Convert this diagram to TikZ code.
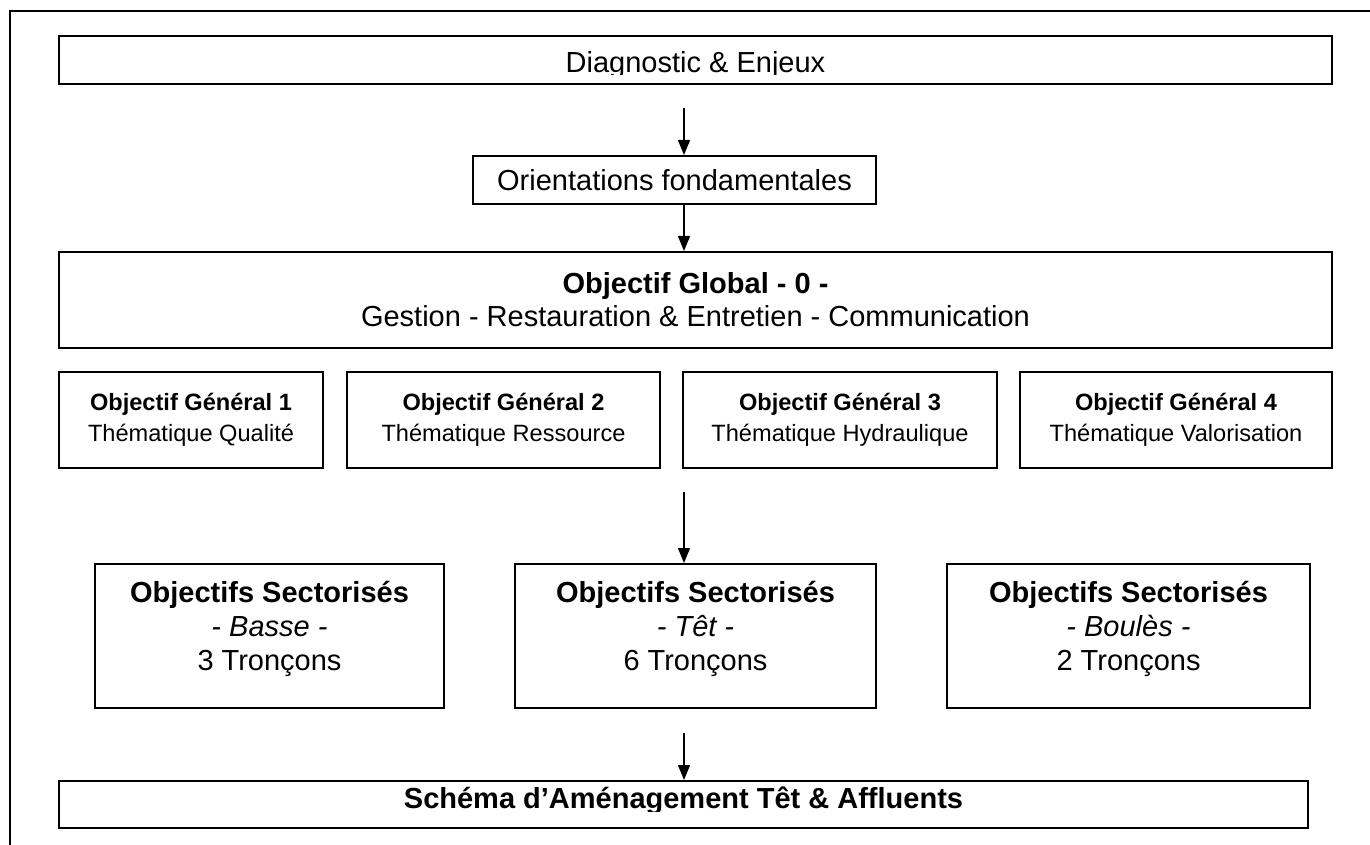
\documentclass[tikz,border=0pt]{standalone}
\usepackage{fontspec}
\setmainfont{Liberation Sans}
\usetikzlibrary{arrows.meta}

\begin{document}
\begin{tikzpicture}[x=0.5pt, y=-0.5pt,
      cadre/.style={draw, line width=1pt, inner sep=0pt, align=center,
                    font=\fontsize{14.5}{16.5}\selectfont},
      cadreg/.style={cadre, minimum height=48pt, font=\fontsize{11.8}{15.5}\selectfont},
      cadres/.style={cadre, minimum height=72pt},
      textes/.style={align=center, inner sep=0pt, font=\fontsize{14.5}{17}\selectfont},
      texte/.style={anchor=base, font=\fontsize{14.5}{16.5}\selectfont},
      fleche/.style={-{Triangle[length=7.5pt,width=6pt]}, line width=0.7pt}]

    \useasboundingbox (0,0) rectangle (1370,845);
    % cadre de la page
    \draw[line width=1pt] (10,900) -- (10,11) -- (1400,11);

    \node[cadre, minimum width=636.5pt, minimum height=24pt] (diag) at (695.5,60) {};
    \begin{scope}
      \clip (59,36) rectangle (1332,75);
      \node[texte] (diagtxt) at (695.5,73) {Diagnostic \& Enjeux};
    \end{scope}
    \node[cadre, minimum width=201.5pt, minimum height=24pt] (orient) at (674.5,180) {Orientations fondamentales};
    \node[cadre, minimum width=636.5pt, minimum height=48pt] (global) at (695.5,300)
      {\textbf{Objectif Global - 0 -}\\Gestion - Restauration \& Entretien - Communication};

    \node[cadreg, minimum width=132pt] (og1) at (191,420) {\textbf{Objectif Général 1}\\Thématique Qualité};
    \node[cadreg, minimum width=156.5pt] (og2) at (503.5,420) {\textbf{Objectif Général 2}\\Thématique Ressource};
    \node[cadreg, minimum width=157pt] (og3) at (840,420) {\textbf{Objectif Général 3}\\Thématique Hydraulique};
    \node[cadreg, minimum width=156pt] (og4) at (1176,420) {\textbf{Objectif Général 4}\\Thématique Valorisation};

    \node[cadres, minimum width=174.5pt] (os1) at (269.5,636) {};
    \node[cadres, minimum width=180.5pt] (os2) at (695.5,636) {};
    \node[cadres, minimum width=181.5pt] (os3) at (1128.5,636) {};
    \node[textes] (os1t) at (269.5,629) {\textbf{Objectifs Sectorisés}\\\textit{- Basse -}\\3 Tronçons};
    \node[textes] (os2t) at (695.5,629) {\textbf{Objectifs Sectorisés}\\\textit{- Têt -}\\6 Tronçons};
    \node[textes] (os3t) at (1128.5,629) {\textbf{Objectifs Sectorisés}\\\textit{- Boulès -}\\2 Tronçons};

    \node[cadre, minimum width=624.5pt, minimum height=23.5pt] (schema) at (683.5,804.5) {};
    \begin{scope}
      \clip (59,781) rectangle (1308,811);
      \node[texte] (schematxt) at (683.5,808) {\textbf{Schéma d’Aménagement Têt \& Affluents}};
    \end{scope}

    \coordinate (f1) at (684,108);
    \coordinate (f3) at (684,492);
    \coordinate (f4) at (684,733);
    \draw[fleche] (f1) -- (f1 |- orient.north);
    \draw[fleche] (orient.south -| f1) -- (f1 |- global.north);
    \draw[fleche] (f3) -- (f3 |- os2.north);
    \draw[fleche] (f4) -- (f4 |- schema.north);
  \end{tikzpicture}
\end{document}
